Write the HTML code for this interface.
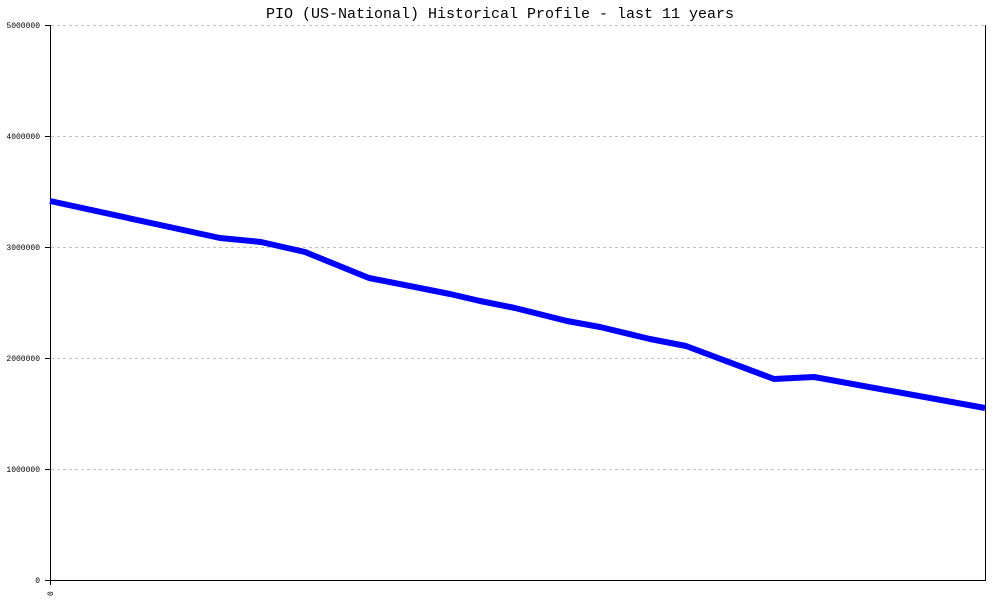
<!DOCTYPE html>
<html><head><meta charset="utf-8"><style>
html,body{margin:0;padding:0;background:#fff;}
svg{display:block;}
</style></head><body>
<svg width="1000" height="600" xmlns="http://www.w3.org/2000/svg">
<rect width="1000" height="600" fill="#fff"/>
<text x="500" y="18" text-anchor="middle" font-family="Liberation Mono, monospace" font-size="15" fill="#000">PIO (US-National) Historical Profile - last 11 years</text>
<g stroke="#c0c0c0" stroke-width="1" stroke-dasharray="3,3">
<line x1="51" y1="25.5" x2="985" y2="25.5"/>
<line x1="51" y1="136.5" x2="985" y2="136.5"/>
<line x1="51" y1="247.5" x2="985" y2="247.5"/>
<line x1="51" y1="358.5" x2="985" y2="358.5"/>
<line x1="51" y1="469.5" x2="985" y2="469.5"/>
</g>
<g stroke="#000" stroke-width="1">
<line x1="50.5" y1="25" x2="50.5" y2="581"/>
<line x1="985.5" y1="25" x2="985.5" y2="581"/>
<line x1="50" y1="580.5" x2="986" y2="580.5"/>
<line x1="45" y1="25.5" x2="50" y2="25.5"/>
<line x1="45" y1="136.5" x2="50" y2="136.5"/>
<line x1="45" y1="247.5" x2="50" y2="247.5"/>
<line x1="45" y1="358.5" x2="50" y2="358.5"/>
<line x1="45" y1="469.5" x2="50" y2="469.5"/>
<line x1="45" y1="580.5" x2="50" y2="580.5"/>
<line x1="50.5" y1="580" x2="50.5" y2="585"/>
</g>
<g font-family="Liberation Mono, monospace" font-size="8" fill="#000" text-anchor="end">
<text x="40" y="28">5000000</text>
<text x="40" y="139">4000000</text>
<text x="40" y="250">3000000</text>
<text x="40" y="361">2000000</text>
<text x="40" y="472">1000000</text>
<text x="40" y="583">0</text>
</g>
<text x="0" y="0" font-family="Liberation Mono, monospace" font-size="8" transform="translate(53,596) rotate(-90)">0</text>
<polyline fill="none" stroke="#0000ff" stroke-width="6" stroke-linejoin="round" points="50,201 220,238 261,242 305,252 369,278 450,294 480,301 515,308 567,321 600,327 650,339 686,346 774,379 814,377 985,408"/>
</svg>
</body></html>
